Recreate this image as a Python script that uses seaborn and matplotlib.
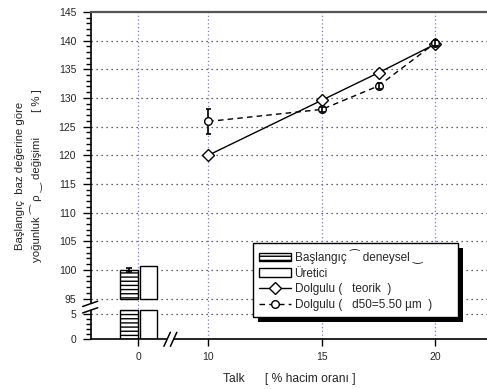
import numpy as np
import pandas as pd
import matplotlib
matplotlib.use("Agg")
import matplotlib.pyplot as plt
import seaborn as sns
from matplotlib.transforms import IdentityTransform
from matplotlib.patches import Rectangle, Polygon, Patch
from matplotlib.lines import Line2D

# ---------------- data ----------------
talc = [10, 15, 17.5, 20]
teorik = [120.0, 129.6, 134.4, 139.4]
deneysel = [125.9, 128.0, 132.1, 139.6]
deneysel_err = [2.2, 0.5, 0.5, 0.5]

base_x = 0
base_exp = 100.0
base_exp_err = 0.3
base_prod = 100.6

yticks_val = [0, 5, 95, 100, 105, 110, 115, 120, 125, 130, 135, 140, 145]
ygrid_val = [5, 95, 100, 105, 110, 115, 120, 125, 130, 135, 140]
xticks_val = [0, 10, 15, 20]

labels = ["Başlangıç ⁀ deneysel ‿", "Üretici",
          "Dolgulu (   teorik  )", "Dolgulu (   d50=5.50 µm  )"]

# ---------------- broken-axis mapping ----------------
LOW_TOP = 6          # top of lower y segment
UP_BOTTOM = 95       # bottom of upper y segment
LOW_ORIGIN = 87.88   # pseudo position of y=0
LOW_SCALE = 0.866
X0_POS = 6.92        # pseudo position of x=0


def ymap(v):
    v = np.asarray(v, dtype=float)
    return np.where(v >= 90, v, LOW_ORIGIN + LOW_SCALE * v)


def xmap(v):
    v = np.asarray(v, dtype=float)
    return np.where(v >= 10, v, X0_POS + v)


sns.set_theme(style="white")
plt.rcParams['font.family'] = ['Liberation Sans', 'DejaVu Sans', 'Noto Sans',
                               'Noto Sans CJK JP']

W, H = 487, 389
fig = plt.figure(figsize=(W / 100, H / 100), dpi=100)
ax = fig.add_axes([90.7 / W, (H - 339.3) / H, 1 - 90.7 / W, (339.3 - 12) / H])

ax.set_xlim(4.82, 22.28)
ax.set_ylim(LOW_ORIGIN, 145)

# grid
for gy in ygrid_val:
    ax.axhline(float(ymap(gy)), color='#333333', lw=0.9, ls=(0, (1, 3)), zorder=1)
for gx in xticks_val:
    ax.axvline(float(xmap(gx)), color='#7777ee', lw=0.9, ls=(0, (1, 2)), zorder=1)

# bars (two segments each because of the y break)
x0 = float(xmap(base_x))
lo_b = float(ymap(0))
lo_t = float(ymap(LOW_TOP))
for left, width, top, hatch in [(x0 - 0.8, 0.8, base_exp, '----'),
                                (x0 + 0.08, 0.74, base_prod, None)]:
    ax.bar(left, lo_t - lo_b, width=width, bottom=lo_b, align='edge',
           facecolor='white', edgecolor='black', linewidth=1.0, hatch=hatch, zorder=2)
    ax.bar(left, top - UP_BOTTOM, width=width, bottom=UP_BOTTOM, align='edge',
           facecolor='white', edgecolor='black', linewidth=1.0, hatch=hatch, zorder=2)
ax.errorbar([x0 - 0.4], [base_exp], yerr=[base_exp_err], fmt='none', ecolor='black',
            elinewidth=1.2, capsize=2.5, capthick=1.2, zorder=3)

# lines
df_t = pd.DataFrame({'x': xmap(talc), 'y': teorik})
df_d = pd.DataFrame({'x': xmap(talc), 'y': deneysel})
sns.lineplot(data=df_t, x='x', y='y', ax=ax, color='black', lw=1.0,
             marker='D', markersize=6, markerfacecolor='white',
             markeredgecolor='black', markeredgewidth=1.0, zorder=5)
sns.lineplot(data=df_d, x='x', y='y', ax=ax, color='black', lw=1.0,
             dashes=False, linestyle=(0, (4, 3)),
             marker='o', markersize=5.5, markerfacecolor='white',
             markeredgecolor='black', markeredgewidth=1.0, zorder=5)
for xi, yi, ei in zip(talc, deneysel, deneysel_err):
    ax.errorbar([float(xmap(xi))], [yi], yerr=[ei], fmt='none', ecolor='black',
                elinewidth=1.2, capsize=1.8, capthick=1.2,
                zorder=4 if ei > 1 else 6)

# ticks
ax.set_yticks([float(ymap(v)) for v in yticks_val])
ax.set_yticklabels([str(v) for v in yticks_val], fontsize=7.5)
minor = [float(ymap(v)) for v in range(0, 6)] + list(range(95, 146))
ax.set_yticks(minor, minor=True)
ax.set_xticks([float(xmap(v)) for v in xticks_val])
ax.set_xticklabels([str(v) for v in xticks_val], fontsize=7.5)
ax.tick_params(axis='y', which='major', direction='out', length=6, width=1, color='black',
               left=True, pad=4.5)
ax.tick_params(axis='y', which='minor', direction='out', length=3.5, width=1, color='black',
               left=True)
ax.tick_params(axis='x', which='major', direction='out', length=5, width=1, color='black',
               bottom=True, pad=4)
ax.grid(False)

for s in ['left', 'bottom']:
    ax.spines[s].set_color('black')
    ax.spines[s].set_linewidth(1.2)
ax.spines['top'].set_color('#555555')
ax.spines['top'].set_linewidth(1.6)
ax.spines['right'].set_visible(False)

ax.set_xlabel("Talk      [ % hacim oranı ]", fontsize=8.7, labelpad=8)
ax.set_ylabel("Başlangıç  baz değerine göre\nyoğunluk ⁀ ρ ‿ değişimi        [ % ]",
              fontsize=8.2, labelpad=11, linespacing=1.55)

# legend
handles = [
    Patch(facecolor='white', edgecolor='black', hatch='----', linewidth=1.0),
    Patch(facecolor='white', edgecolor='black', linewidth=1.0),
    Line2D([], [], color='black', lw=1.0, marker='D', markersize=6,
           markerfacecolor='white', markeredgecolor='black'),
    Line2D([], [], color='black', lw=1.0, ls=(0, (4, 3)), marker='o', markersize=5.5,
           markerfacecolor='white', markeredgecolor='black'),
]
leg = ax.legend(handles, labels, loc='upper left',
                bbox_to_anchor=(0.4095, 0.065, 0.5175, 0.229), mode='expand',
                borderaxespad=0, fontsize=8.5, frameon=True, fancybox=False,
                framealpha=1, edgecolor='black', handlelength=2.7,
                handletextpad=0.3, labelspacing=0.3, borderpad=0.52)
leg.get_frame().set_linewidth(1.0)
leg.set_zorder(10)

# axis break marks (drawn in pixel space)
fig.canvas.draw()
tr = ax.transData


def break_mark(cx, cy, dx, dy, gap, horiz):
    # two parallel slashes with white between them
    if horiz:
        a = [(cx - gap / 2 - dx, cy - dy), (cx - gap / 2 + dx, cy + dy)]
        b = [(cx + gap / 2 - dx, cy - dy), (cx + gap / 2 + dx, cy + dy)]
    else:
        a = [(cx - dx, cy + gap / 2 - dy), (cx + dx, cy + gap / 2 + dy)]
        b = [(cx - dx, cy - gap / 2 - dy), (cx + dx, cy - gap / 2 + dy)]
    poly = Polygon([a[0], a[1], b[1], b[0]], closed=True, facecolor='white',
                   edgecolor='none', transform=IdentityTransform(), clip_on=False, zorder=8)
    ax.add_patch(poly)
    for seg in (a, b):
        ax.add_line(Line2D([p[0] for p in seg], [p[1] for p in seg], color='black', lw=1.1,
                           transform=IdentityTransform(), clip_on=False, zorder=9))


# y-axis break at left spine
px, py = tr.transform((4.82, 93.5))
break_mark(px - 0.5, py, 7.5, 2.6, 6.5, horiz=False)
# x-axis break
px, py = tr.transform((8.33, LOW_ORIGIN))
break_mark(px, py, 3.2, 7, 6.5, horiz=True)

# legend shadow
bb = leg.get_window_extent()
ax.add_patch(Rectangle((bb.x0 + 5, bb.y0 - 5), bb.width, bb.height, facecolor='black',
                       edgecolor='none', transform=IdentityTransform(), clip_on=False,
                       zorder=9.5))

fig.savefig('out.png', dpi=100)
